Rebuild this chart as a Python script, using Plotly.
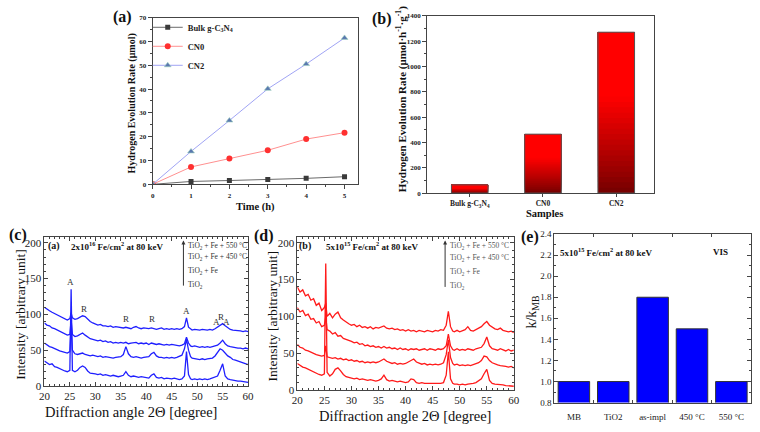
import plotly.graph_objects as go

# ---------------- (a) Hydrogen evolution vs time ----------------
time_h = [0, 1, 2, 3, 4, 5]
bulk_a = [0, 1.2, 1.6, 2.0, 2.5, 3.2]
cn0_a = [0, 7.3, 10.8, 14.3, 19.0, 21.7]
cn2_a = [0, 13.8, 26.8, 40.1, 50.5, 61.5]

# ---------------- (b) Hydrogen evolution rate ----------------
samples_b = ["Bulk g-C<sub>3</sub>N<sub>4</sub>", "CN0", "CN2"]
rate_b = [65, 465, 1270]

# ---------------- (c), (d) XRD patterns ----------------
two_theta = [20.0, 20.5, 21.0, 21.5, 22.0, 22.5, 23.0, 23.5, 24.0, 24.5, 25.0, 25.25, 25.5,
             26.0, 26.5, 27.0, 27.5, 28.0, 28.5, 29.0, 29.5, 30.0, 30.5, 31.0, 31.5, 32.0,
             32.5, 33.0, 33.5, 34.0, 34.5, 35.0, 35.5, 36.0, 36.5, 37.0, 37.5, 38.0, 38.5,
             39.0, 39.5, 40.0, 40.5, 41.0, 41.5, 42.0, 42.5, 43.0, 43.5, 44.0, 44.5, 45.0,
             45.5, 46.0, 46.5, 47.0, 47.5, 47.9, 48.3, 48.7, 49.0, 49.5, 50.0, 50.5, 51.0,
             51.5, 52.0, 52.5, 53.0, 53.5, 54.0, 54.5, 55.0, 55.5, 56.0, 56.5, 57.0, 57.5,
             58.0, 58.5, 59.0, 59.5, 60.0]

c_tio2 = [35, 32, 30, 31, 27, 26, 24, 23, 21, 20, 22, 135, 22,
          20, 22, 26, 28, 26, 21, 18, 18, 17, 16, 17, 15, 16,
          15, 14, 15, 14, 13, 14, 15, 20, 15, 13, 14, 13, 12,
          13, 12, 12, 11, 15, 17, 12, 11, 12, 10, 11, 10, 10,
          11, 10, 9, 10, 14, 48, 16, 10, 9, 10, 9, 10, 9,
          10, 9, 10, 11, 12, 14, 22, 31, 14, 10, 9, 8, 8,
          7, 7, 6, 6, 5]
c_fe = [60, 57, 55, 54, 52, 50, 49, 48, 47, 46, 48, 85, 50,
        45, 44, 45, 46, 44, 43, 42, 43, 42, 41, 42, 40, 41,
        40, 40, 39, 40, 40, 41, 44, 55, 45, 41, 40, 41, 40,
        39, 40, 40, 41, 45, 47, 42, 40, 40, 39, 40, 39, 40,
        39, 40, 41, 43, 52, 65, 50, 41, 39, 38, 38, 37, 38,
        37, 38, 38, 39, 42, 48, 52, 50, 46, 42, 40, 37, 36,
        35, 33, 32, 31, 30]
c_fe450 = [88, 85, 84, 81, 80, 78, 76, 75, 73, 71, 72, 92, 72,
           69, 70, 72, 74, 71, 68, 66, 65, 64, 63, 64, 62, 63,
           61, 62, 60, 61, 60, 61, 60, 61, 59, 60, 60, 61, 59,
           60, 59, 60, 58, 60, 59, 58, 59, 58, 57, 58, 57, 58,
           57, 57, 56, 57, 59, 68, 60, 56, 55, 56, 55, 54, 55,
           54, 55, 54, 55, 56, 57, 60, 64, 59, 56, 55, 54, 54,
           53, 53, 52, 53, 52]
c_fe550 = [110, 107, 105, 103, 101, 99, 97, 96, 94, 92, 94, 102, 95,
           93, 94, 96, 98, 97, 93, 90, 88, 86, 85, 86, 84, 84,
           83, 84, 82, 83, 82, 82, 81, 82, 81, 80, 82, 83, 81,
           80, 81, 80, 80, 81, 80, 79, 80, 81, 79, 80, 79, 80,
           79, 80, 79, 80, 83, 95, 82, 79, 78, 79, 78, 78, 79,
           78, 78, 79, 78, 80, 82, 85, 87, 84, 81, 79, 78, 78,
           77, 77, 76, 77, 76]

d_tio2 = [36, 33, 31, 30, 28, 27, 25, 23, 21, 20, 22, 172, 24,
          19, 22, 28, 30, 26, 21, 18, 17, 16, 15, 16, 14, 15,
          14, 13, 14, 13, 12, 13, 15, 20, 14, 12, 13, 12, 11,
          12, 11, 10, 11, 15, 14, 10, 9, 10, 9, 9, 8, 9,
          8, 8, 9, 10, 20, 52, 15, 9, 8, 8, 7, 8, 7,
          8, 8, 9, 10, 12, 15, 22, 28, 13, 9, 8, 8, 7,
          7, 6, 6, 6, 5]
d_fe = [62, 58, 57, 54, 53, 51, 50, 48, 47, 46, 47, 60, 45,
        44, 43, 44, 42, 43, 41, 42, 40, 41, 39, 40, 38, 39,
        37, 38, 37, 38, 37, 38, 40, 42, 39, 37, 36, 37, 35,
        36, 35, 36, 38, 41, 42, 38, 36, 35, 36, 34, 35, 34,
        35, 34, 35, 37, 48, 68, 44, 36, 34, 35, 33, 34, 33,
        34, 33, 34, 35, 37, 40, 46, 45, 40, 37, 35, 34, 33,
        33, 32, 31, 32, 30]
d_fe450 = [112, 106, 108, 101, 103, 96, 97, 91, 93, 86, 88, 100, 82,
           80, 76, 78, 73, 74, 70, 69, 67, 66, 64, 65, 62, 63,
           60, 61, 59, 60, 58, 59, 57, 59, 57, 58, 56, 57, 55,
           57, 55, 56, 54, 56, 55, 56, 54, 55, 56, 54, 56, 55,
           54, 56, 55, 56, 60, 76, 60, 55, 54, 56, 54, 55, 54,
           56, 55, 54, 56, 57, 58, 63, 72, 60, 56, 55, 54, 56,
           54, 53, 55, 53, 54]
d_fe550 = [140, 133, 136, 128, 130, 122, 124, 115, 118, 108, 112, 118, 100,
           104, 98, 103, 106, 98, 95, 92, 90, 88, 89, 86, 88, 85,
           86, 84, 86, 83, 85, 84, 86, 87, 84, 83, 84, 82, 83,
           81, 82, 80, 82, 80, 81, 79, 81, 80, 79, 81, 80, 79,
           81, 80, 82, 81, 88, 107, 86, 80, 79, 81, 79, 80, 82,
           86, 81, 80, 82, 84, 86, 90, 93, 88, 85, 83, 82, 84,
           81, 80, 79, 80, 78]

# ---------------- (e) relative rate constants ----------------
samples_e = ["MB", "TiO2", "as-impl", "450 °C", "550 °C"]
k_ratio = [1.0, 1.0, 1.8, 1.5, 1.0]

W, H = 760, 432
SERIF = "Liberation Serif"


def px(x):
    return x / W


def py(y):
    return 1 - y / H


fig = go.Figure()

# (a) lines
fig.add_trace(go.Scatter(x=time_h, y=bulk_a, name="Bulk g-C<sub>3</sub>N<sub>4</sub>",
                         mode="lines+markers", line=dict(color="#6a6a6a", width=1),
                         marker=dict(symbol="square", size=5, color="#3a3a3a"),
                         xaxis="x", yaxis="y"))
fig.add_trace(go.Scatter(x=time_h, y=cn0_a, name="CN0", mode="lines+markers",
                         line=dict(color="#ff9090", width=1),
                         marker=dict(symbol="circle", size=6, color="#ff3030"),
                         xaxis="x", yaxis="y"))
fig.add_trace(go.Scatter(x=time_h, y=cn2_a, name="CN2", mode="lines+markers",
                         line=dict(color="#a0a4f4", width=1),
                         marker=dict(symbol="triangle-up", size=6, color="#5a78b0",
                                     line=dict(color="#9fd0c0", width=0.6)),
                         xaxis="x", yaxis="y"))

# (b) gradient bars: overlapping slices of each value, darker at the bottom
N_SEG = 30
seg_x, seg_base, seg_h, seg_col = [], [], [], []
for cat, val in zip(samples_b, rate_b):
    for k in range(N_SEG):
        t = (k + 0.5) / N_SEG
        f = min(1.0, t / 0.6) ** 0.9
        r = int(115 + (255 - 115) * f)
        base = val * k / N_SEG
        seg_x.append(cat)
        seg_base.append(base)
        seg_h.append(val - base)
        seg_col.append(f"rgb({r},0,0)")
fig.add_trace(go.Bar(x=seg_x, y=seg_h, base=seg_base, width=0.5,
                     marker=dict(color=seg_col, line=dict(width=0)),
                     showlegend=False, xaxis="x2", yaxis="y2"))
fig.add_trace(go.Bar(x=samples_b, y=rate_b, width=0.5,
                     marker=dict(color="rgba(0,0,0,0)", line=dict(color="#555", width=1)),
                     showlegend=False, xaxis="x2", yaxis="y2"))

# (c) and (d) XRD curves
for ys in [c_tio2, c_fe, c_fe450, c_fe550]:
    fig.add_trace(go.Scatter(x=two_theta, y=ys, mode="lines",
                             line=dict(color="#1f1fff", width=1.3),
                             showlegend=False, xaxis="x3", yaxis="y3"))
for ys in [d_tio2, d_fe, d_fe450, d_fe550]:
    fig.add_trace(go.Scatter(x=two_theta, y=ys, mode="lines",
                             line=dict(color="#ff1a1a", width=1.3),
                             showlegend=False, xaxis="x4", yaxis="y4"))

# (e) bars
fig.add_trace(go.Bar(x=samples_e, y=k_ratio, width=0.8,
                     marker=dict(color="#0000ff", line=dict(color="#333", width=1)),
                     showlegend=False, xaxis="x5", yaxis="y5"))

bold_tick = dict(family=SERIF, size=7, color="#222", weight="bold")
serif_tick = dict(family=SERIF, size=11, color="#222")
e_tick = dict(family=SERIF, size=9, color="#222")

common = dict(showgrid=False, zeroline=False, showline=True, linecolor="#444",
              linewidth=1)

fig.update_layout(
    width=W, height=H, margin=dict(l=0, r=0, t=0, b=0),
    plot_bgcolor="white", paper_bgcolor="white", barmode="overlay",
    font=dict(family=SERIF, color="#222"),
    legend=dict(x=px(144), y=py(8), xanchor="left", yanchor="top",
                bgcolor="rgba(0,0,0,0)", itemwidth=30, tracegroupgap=0,
                font=dict(family=SERIF, size=8.5, weight="bold", color="#222")),
    # (a)
    xaxis=dict(domain=[px(149), px(358)], range=[0, 5.36], tickvals=time_h,
               ticks="outside", ticklen=4, tickcolor="#444", mirror=True,
               minor=dict(dtick=0.5, ticks="outside", ticklen=2, tickcolor="#444"),
               tickfont=bold_tick, anchor="y", **common),
    yaxis=dict(domain=[py(184), py(13)], range=[0, 70], dtick=10,
               ticks="outside", ticklen=4, tickcolor="#444", mirror=True,
               minor=dict(dtick=5, ticks="outside", ticklen=2, tickcolor="#444"),
               tickfont=bold_tick, anchor="x", **common),
    # (b)
    xaxis2=dict(domain=[px(428), px(658)], type="category", range=[-0.58, 2.51],
                ticks="outside", ticklen=3, tickcolor="#444", mirror=True,
                tickfont=dict(family=SERIF, size=7.5, weight="bold", color="#222"),
                anchor="y2", **common),
    yaxis2=dict(domain=[py(193), py(11)], range=[0, 1400], dtick=200,
                ticks="outside", ticklen=4, tickcolor="#444", mirror=True,
                minor=dict(dtick=100, ticks="outside", ticklen=2, tickcolor="#444"),
                tickfont=bold_tick, anchor="x2", **common),
    # (c)
    xaxis3=dict(domain=[px(39), px(246)], range=[20, 60], dtick=5,
                ticks="inside", ticklen=4, tickcolor="#444", mirror="allticks",
                minor=dict(dtick=1, ticks="inside", ticklen=2, tickcolor="#444"),
                tickfont=serif_tick, anchor="y3", **common),
    yaxis3=dict(domain=[py(391), py(238)], range=[0, 208], dtick=50,
                ticks="inside", ticklen=4, tickcolor="#444", mirror="allticks",
                minor=dict(dtick=10, ticks="inside", ticklen=2, tickcolor="#444"),
                tickfont=serif_tick, anchor="x3", **common),
    # (d)
    xaxis4=dict(domain=[px(296), px(516)], range=[20, 60], dtick=5,
                ticks="inside", ticklen=4, tickcolor="#444", mirror="allticks",
                minor=dict(dtick=1, ticks="inside", ticklen=2, tickcolor="#444"),
                tickfont=serif_tick, anchor="y4", **common),
    yaxis4=dict(domain=[py(395), py(238)], range=[0, 208], dtick=50,
                ticks="inside", ticklen=4, tickcolor="#444", mirror="allticks",
                minor=dict(dtick=10, ticks="inside", ticklen=2, tickcolor="#444"),
                tickfont=serif_tick, anchor="x4", **common),
    # (e)
    xaxis5=dict(domain=[px(557), px(757)], type="category", range=[-0.5, 4.5],
                ticks="inside", ticklen=3, tickcolor="#444", mirror="allticks",
                tickson="boundaries", tickfont=e_tick, ticklabelstandoff=6,
                anchor="y5", **common),
    yaxis5=dict(domain=[py(408), py(235)], range=[0.8, 2.4], dtick=0.2,
                tickformat=".1f", ticks="inside", ticklen=4, tickcolor="#444",
                mirror="allticks",
                minor=dict(dtick=0.1, ticks="inside", ticklen=2, tickcolor="#444"),
                tickfont=e_tick, anchor="x5", **common),
)

ann = []


def label(x, y, text, size, bold=False, angle=0, color="#111", xanchor="center",
          xref="paper", yref="paper"):
    ann.append(dict(x=x, y=y, xref=xref, yref=yref, text=text, showarrow=False,
                    textangle=angle, xanchor=xanchor, yanchor="middle",
                    font=dict(family=SERIF, size=size, color=color,
                              weight="bold" if bold else "normal")))


# panel letters
label(px(118), py(12), "(a)", 16, True)
label(px(382), py(14), "(b)", 16, True)
label(px(12), py(236), "(c)", 16, True)
label(px(262), py(237), "(d)", 16, True)
label(px(532), py(238), "(e)", 16, True)

# axis titles
label(px(128), py(101), "Hydrogen Evolution Rate (μmol)", 10, True, -90)
label(px(253), py(207), "Time (h)", 10.5, True)
label(px(402), py(97), "Hydrogen Evolution Rate (μmol·h<sup>-1</sup>·g<sup>-1</sup>)", 11, True, -90)
label(px(547), py(214), "Samples", 10.5, True)
label(px(15), py(318), "Intensity [arbitrary unit]", 13.5, False, -90)
label(px(127), py(418), "Diffraction angle 2Θ [degree]", 14.5)
label(px(271), py(320), "Intensity [arbitrary unit]", 13.5, False, -90)
label(px(405), py(422), "Diffraction angle 2Θ [degree]", 14.5)
label(px(535), py(315), "k/k<sub>MB</sub>", 14, False, -90)

# panel (c) inner texts
label(21.9, 195, "(a)", 10, True, xref="x3", yref="y3")
label(34.2, 195, "2x10<sup>16</sup> Fe/cm<sup>2</sup> at 80 keV", 9, True, xref="x3", yref="y3")
for yy, txt in zip([195, 180, 161, 141],
                   ["TiO<sub>2</sub> + Fe + 550 °C", "TiO<sub>2</sub> + Fe + 450 °C",
                    "TiO<sub>2</sub> + Fe", "TiO<sub>2</sub>"]):
    label(47.8, yy, txt, 7.5, False, xanchor="left", xref="x3", yref="y3", color="#333")
    label(47.8, yy, txt, 7.5, False, xanchor="left", xref="x4", yref="y4", color="#555")
for xx, yy, t in [(25.2, 145, "A"), (27.8, 108, "R"), (36.1, 93, "R"), (41.2, 93, "R"),
                  (48.0, 105, "A"), (53.8, 90, "A"), (54.7, 96, "R"), (55.7, 90, "A")]:
    label(xx, yy, t, 9, False, xref="x3", yref="y3", color="#333")

# panel (d) inner texts
label(21.4, 195, "(b)", 10, True, xref="x4", yref="y4")
label(33.8, 195, "5x10<sup>15</sup> Fe/cm<sup>2</sup> at 80 keV", 9, True, xref="x4", yref="y4")

# panel (e) inner texts
label(px(610), py(253), "5x10<sup>15</sup> Fe/cm<sup>2</sup> at 80 keV", 9, True)
label(px(726), py(253), "VIS", 9, True)

# arrows in (c) and (d)
for xr, yr in [("x3", "y3"), ("x4", "y4")]:
    ann.append(dict(x=47.3, y=203, ax=47.3, ay=138, xref=xr, yref=yr, axref=xr, ayref=yr,
                    text="", showarrow=True, arrowhead=2, arrowsize=0.8, arrowwidth=1,
                    arrowcolor="#333"))

fig.update_layout(annotations=ann)
fig.write_html("out.html", config={"displayModeBar": False},
               post_script="document.body.style.margin='0';document.body.style.overflow='hidden';")
